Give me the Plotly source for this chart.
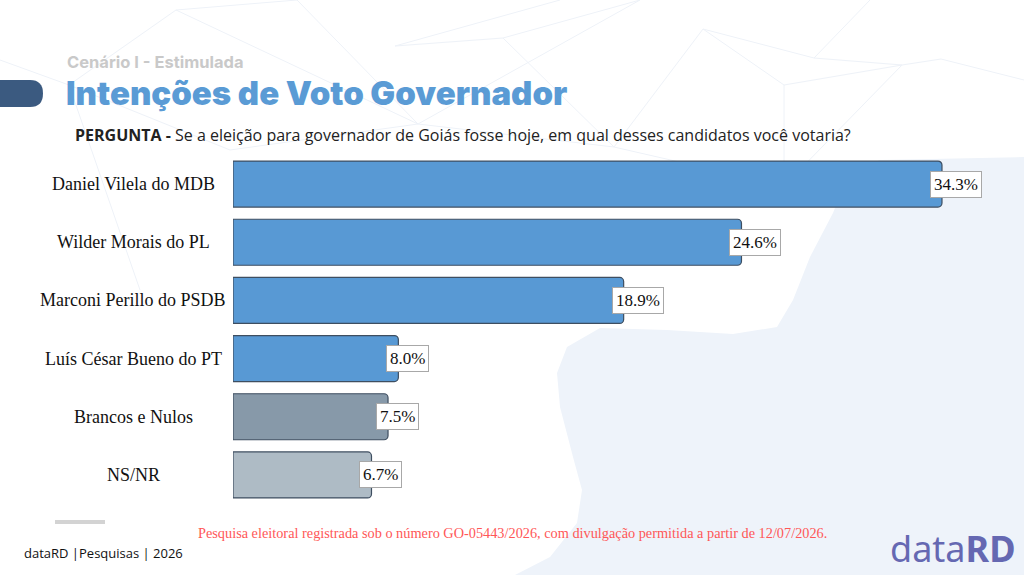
import plotly.graph_objects as go

categories = ["Daniel Vilela do MDB", "Wilder Morais do PL", "Marconi Perillo do PSDB",
              "Luís César Bueno do PT", "Brancos e Nulos", "NS/NR"]
values = [34.3, 24.6, 18.9, 8.0, 7.5, 6.7]
bar_colors = ["#5899D4", "#5899D4", "#5899D4", "#5899D4", "#8799A9", "#AEBBC5"]
value_labels = [f"{v:.1f}%" for v in values]

W, H = 1024, 575
def px(x):
    return x / W
def py(y):
    return 1 - y / H

fig = go.Figure()
fig.add_trace(go.Bar(
    x=values, y=categories, orientation="h",
    marker=dict(color=bar_colors, line=dict(color="#3E4E60", width=1.2)),
    width=0.79, hoverinfo="skip", showlegend=False,
))

shapes = []
# light background blob
pts = [(1024, 157), (880, 160), (850, 170), (833, 213), (810, 257), (793, 300), (777, 327),
       (733, 334), (667, 330), (600, 328), (567, 347), (557, 373), (560, 407), (573, 457),
       (582, 490), (577, 523), (550, 557), (515, 575), (1024, 575)]
path = "M {} {}".format(px(pts[0][0]), py(pts[0][1]))
for i in range(1, len(pts)):
    path += " L {} {}".format(px(pts[i][0]), py(pts[i][1]))
path += " Z"
shapes.append(dict(type="path", xref="paper", yref="paper", path=path,
                   fillcolor="#EEF3FA", line=dict(width=0), layer="below"))

# faint network lines at the top
nodes = {"a": (176, 10), "b": (69, 85), "c": (418, 124), "d": (614, 147), "e": (395, 46),
         "f": (503, 38), "g": (703, 29), "h": (784, 85), "i": (784, 186), "j": (814, 58),
         "k": (902, 65), "l": (941, 59), "m": (297, 0), "n": (0, 60), "o": (1024, 80),
         "p": (560, 0), "q": (640, 0), "r": (870, 0), "s": (230, 150), "t": (140, 290)}
edges = [("a", "b"), ("a", "c"), ("m", "c"), ("b", "s"), ("c", "d"), ("c", "s"), ("e", "f"),
         ("p", "e"), ("q", "c"), ("f", "d"), ("d", "g"), ("g", "h"), ("h", "i"), ("g", "j"),
         ("j", "k"), ("k", "l"), ("l", "o"), ("r", "j"), ("d", "i"), ("i", "k"), ("n", "b"),
         ("b", "t"), ("a", "m"), ("f", "q"), ("h", "k")]
for a, b in edges:
    (x0, y0), (x1, y1) = nodes[a], nodes[b]
    shapes.append(dict(type="line", xref="paper", yref="paper", x0=px(x0), y0=py(y0),
                       x1=px(x1), y1=py(y1), line=dict(color="#EEF2F8", width=1), layer="below"))

# dark pill at the left of the title
pill = "M 0 {y0} L {x1} {y0} Q {x2} {y0} {x2} {ym} Q {x2} {y1} {x1} {y1} L 0 {y1} Z".format(
    y0=py(80), y1=py(107), ym=py(93.5), x1=px(30), x2=px(43))
shapes.append(dict(type="path", xref="paper", yref="paper", path=pill,
                   fillcolor="#3B5A80", line=dict(width=0)))
# small gray bar bottom-left
shapes.append(dict(type="line", xref="paper", yref="paper", x0=px(55), x1=px(105),
                   y0=py(522), y1=py(522), line=dict(color="#D3D3D3", width=4)))

annotations = []
# category labels (centered)
for c in categories:
    annotations.append(dict(x=px(133), y=c, xref="paper", yref="y", text=c, showarrow=False,
                            xanchor="center", yanchor="middle",
                            font=dict(family="Liberation Serif", size=18, color="#111111")))
# value labels
for c, v, t in zip(categories, values, value_labels):
    annotations.append(dict(x=v, y=c, xref="x", yref="y", text=t, showarrow=False,
                            xanchor="left", yanchor="middle", xshift=-12,
                            bgcolor="white", bordercolor="#A8A8A8", borderwidth=1, borderpad=3,
                            font=dict(family="Liberation Serif", size=17, color="#111111")))

annotations += [
    dict(x=px(65), y=py(62), xref="paper", yref="paper", text="Cenário I - Estimulada",
         showarrow=False, xanchor="left", yanchor="middle",
         font=dict(family="Inter", size=16.5, color="#C9C9C9", weight=700)),
    dict(x=px(64), y=py(93), xref="paper", yref="paper", text="Intenções de Voto Governador",
         showarrow=False, xanchor="left", yanchor="middle",
         font=dict(family="Inter", size=33, color="#5A9BD5", weight=900)),
    dict(x=px(73), y=py(135), xref="paper", yref="paper",
         text="<b>PERGUNTA -</b> Se a eleição para governador de Goiás fosse hoje, em qual desses candidatos você votaria?",
         showarrow=False, xanchor="left", yanchor="middle",
         font=dict(family="Open Sans", size=16, color="#222222")),
    dict(x=px(512), y=py(533), xref="paper", yref="paper",
         text="Pesquisa eleitoral registrada sob o número GO-05443/2026, com divulgação permitida a partir de 12/07/2026.",
         showarrow=False, xanchor="center", yanchor="middle",
         font=dict(family="Liberation Serif", size=14.3, color="#FF5757")),
    dict(x=px(22), y=py(553), xref="paper", yref="paper", text="dataRD |Pesquisas | 2026",
         showarrow=False, xanchor="left", yanchor="middle",
         font=dict(family="Open Sans", size=13, color="#111111")),
    dict(x=px(1018), y=py(548), xref="paper", yref="paper", text="data<b>RD</b>",
         showarrow=False, xanchor="right", yanchor="middle",
         font=dict(family="Noto Sans", size=36, color="#6568B2")),
]

fig.update_layout(
    width=W, height=H,
    margin=dict(l=0, r=0, t=0, b=0),
    paper_bgcolor="white", plot_bgcolor="rgba(0,0,0,0)",
    barcornerradius=4,
    xaxis=dict(domain=[px(233), px(1000)], range=[0, (1000 - 233) / 20.67],
               visible=False, fixedrange=True),
    yaxis=dict(domain=[py(504), py(155)], range=[5.5, -0.5], visible=False,
               categoryorder="array", categoryarray=categories, fixedrange=True),
    shapes=shapes, annotations=annotations,
)

fig.write_html("out.html", config={"displayModeBar": False})
